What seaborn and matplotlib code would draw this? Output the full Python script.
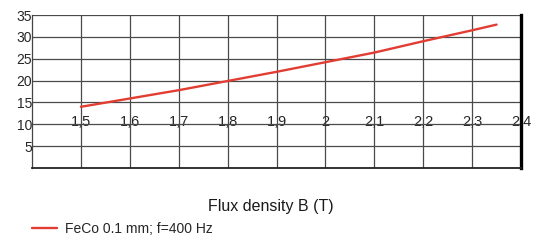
import pandas as pd
import matplotlib.pyplot as plt
import seaborn as sns

# datos
flux_b = [1.5, 1.6, 1.7, 1.8, 1.9, 2.0, 2.1, 2.2, 2.3, 2.35]
perdidas = [14.0, 15.9, 17.8, 19.9, 22.0, 24.2, 26.4, 29.0, 31.5, 32.8]
serie = 'FeCo 0.1 mm; f=400 Hz'

x_ticks = [1.5, 1.6, 1.7, 1.8, 1.9, 2.0, 2.1, 2.2, 2.3, 2.4]
x_labels = ['1,5', '1,6', '1,7', '1,8', '1,9', '2', '2,1', '2,2', '2,3', '2,4']
y_ticks = [5, 10, 15, 20, 25, 30, 35]

df = pd.DataFrame({'B': flux_b, 'P': perdidas, 'serie': serie})

sns.set_theme(style='white')
plt.rcParams['font.family'] = ['Liberation Sans', 'DejaVu Sans']

fig = plt.figure(figsize=(5.44, 2.4), dpi=100)
ax = fig.add_axes([32 / 544, 72 / 240, 489 / 544, 153 / 240])

sns.lineplot(data=df, x='B', y='P', hue='serie', palette=['#e23d32'],
             linewidth=1.7, ax=ax, legend=False)

ax.set_xlim(1.4, 2.4)
ax.set_ylim(0, 35)
ax.set_xticks(x_ticks)
ax.set_xticklabels(x_labels)
ax.set_yticks(y_ticks)

ax.grid(True, color='#4a4a4a', linewidth=0.9)
ax.set_axisbelow(True)

ax.spines['top'].set_visible(False)
ax.spines['left'].set_color('#444444')
ax.spines['left'].set_linewidth(0.9)
ax.spines['bottom'].set_color('#222222')
ax.spines['bottom'].set_linewidth(1.3)
ax.spines['right'].set_color('black')
ax.spines['right'].set_linewidth(2.4)

ax.tick_params(axis='x', direction='in', length=3, width=0.8, pad=-38,
               labelsize=10.5, labelcolor='#262626', colors='#444444')
ax.tick_params(axis='y', direction='inout', length=7, width=1, pad=-3.5,
               labelsize=10, labelcolor='#262626', colors='#222222')

ax.set_xlabel('')
ax.set_ylabel('')
fig.text(0.497, 33 / 240, 'Flux density B (T)', ha='center', va='center',
         fontsize=11.5, color='#1a1a1a')

fig.legend(handles=[plt.Line2D([], [], color='#e23d32', linewidth=1.7)],
           labels=[serie], loc='lower left', bbox_to_anchor=(0.035, -0.035),
           frameon=False, fontsize=10, handlelength=1.8, handletextpad=0.6)

plt.savefig('out.png', dpi=100)
